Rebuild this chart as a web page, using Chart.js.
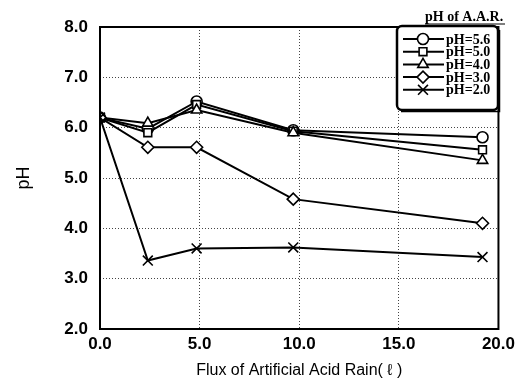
<!DOCTYPE html>
<html><head><meta charset="utf-8">
<script src="https://cdn.jsdelivr.net/npm/chart.js@4/dist/chart.umd.min.js"></script>
<style>html,body{margin:0;padding:0;background:#fff}#wrap{width:520px;height:380px}</style>
</head><body><div id="wrap"><canvas id="c" width="520" height="380"></canvas></div>
<script>
const flux = [0, 2.4, 4.85, 9.7, 19.2];
const seriesLabels = ['pH=5.6', 'pH=5.0', 'pH=4.0', 'pH=3.0', 'pH=2.0'];
const ph56 = [6.2, 5.98, 6.52, 5.95, 5.81];
const ph50 = [6.2, 5.90, 6.46, 5.93, 5.56];
const ph40 = [6.2, 6.09, 6.35, 5.90, 5.35];
const ph30 = [6.2, 5.61, 5.61, 4.58, 4.10];
const ph20 = [6.2, 3.36, 3.60, 3.62, 3.43];
const xTicks = [0, 5, 10, 15, 20];
const yTicks = [2, 3, 4, 5, 6, 7, 8];
const legendTitle = 'pH of A.A.R.';

const styles = ['circle', 'rect', 'triangle', 'rectRot', 'crossRot'];
const radii = [5.5, 5.5, 6, 6, 7];
const drawOrder = [4, 3, 2, 1, 0];
const allSeries = [ph56, ph50, ph40, ph30, ph20];

const datasets = allSeries.map((s, i) => ({
  label: seriesLabels[i],
  data: s.map((v, j) => ({x: flux[j], y: v})),
  order: drawOrder[i],
  borderColor: '#000',
  backgroundColor: '#fff',
  borderWidth: 2,
  pointStyle: styles[i],
  pointRadius: radii[i],
  pointBorderWidth: 1.6,
  pointBackgroundColor: '#fff',
  pointBorderColor: '#000',
  tension: 0
}));

const framePlugin = {
  id: 'frame',
  afterDatasetsDraw(chart) {
    const {ctx, chartArea: a} = chart;
    ctx.save();
    ctx.strokeStyle = '#000';
    ctx.lineWidth = 2;
    ctx.strokeRect(a.left, a.top, a.right - a.left, a.bottom - a.top);
    ctx.restore();
  },
  afterDraw(chart) {
    const {ctx} = chart;
    ctx.save();
    const bx = 397, by = 26, bw = 101, bh = 84, r = 5;
    ctx.fillStyle = '#fff';
    ctx.strokeStyle = '#000';
    ctx.lineWidth = 2.5;
    ctx.beginPath();
    ctx.roundRect(bx, by, bw, bh, r);
    ctx.fill();
    ctx.stroke();
    ctx.lineWidth = 1.5;
    ctx.beginPath();
    ctx.moveTo(bx + bw + 1.5, by + 4);
    ctx.lineTo(bx + bw + 1.5, by + bh + 1.5);
    ctx.lineTo(bx + 4, by + bh + 1.5);
    ctx.stroke();
    ctx.fillStyle = '#000';
    ctx.font = 'bold 14px "Liberation Serif"';
    ctx.textAlign = 'left';
    ctx.textBaseline = 'middle';
    ctx.fillText(legendTitle, 425, 17);
    ctx.beginPath();
    ctx.lineWidth = 1;
    ctx.moveTo(425, 24); ctx.lineTo(505, 24);
    ctx.stroke();
    chart.data.datasets.forEach((ds, i) => {
      const y = 39 + i * 12.7;
      ctx.strokeStyle = '#000';
      ctx.lineWidth = 2;
      ctx.beginPath();
      ctx.moveTo(403, y); ctx.lineTo(444, y);
      ctx.stroke();
      ctx.fillStyle = '#fff';
      ctx.lineWidth = 1.6;
      Chart.helpers.drawPoint(ctx, {pointStyle: ds.pointStyle, radius: ds.pointRadius, borderWidth: 1.6, rotation: 0}, 423, y);
      ctx.fillStyle = '#000';
      ctx.font = 'bold 14px "Liberation Serif"';
      ctx.fillText(ds.label, 446, y + 1);
    });
    ctx.restore();
  }
};

new Chart(document.getElementById('c'), {
  type: 'line',
  data: {datasets},
  options: {
    responsive: false,
    animation: false,
    devicePixelRatio: 1,
    layout: {padding: {left: 0, right: 21, top: 27, bottom: 0}},
    plugins: {legend: {display: false}, tooltip: {enabled: false}},
    scales: {
      x: {
        type: 'linear', min: 0, max: 20,
        afterBuildTicks(s) { s.ticks = xTicks.map(v => ({value: v})); },
        afterFit(s) { s.height = 51; },
        ticks: {color: '#000', font: {family: '"Liberation Sans"', size: 17, weight: 'bold'}, padding: 5, maxRotation: 0,
                callback: v => v.toFixed(1)},
        grid: {color: '#444', lineWidth: 1, drawTicks: false, tickLength: 0},
        border: {display: false, dash: [1, 2]},
        title: {display: true, text: 'Flux of Artificial Acid Rain( ℓ )', color: '#000',
                font: {family: '"Liberation Sans"', size: 16}, padding: {top: 2, bottom: 0}}
      },
      y: {
        type: 'linear', min: 2, max: 8,
        afterBuildTicks(s) { s.ticks = yTicks.map(v => ({value: v})); },
        afterFit(s) { s.width = 100; },
        ticks: {color: '#000', font: {family: '"Liberation Sans"', size: 17, weight: 'bold'}, padding: 12,
                callback: v => v.toFixed(1)},
        grid: {color: '#444', lineWidth: 1, drawTicks: false},
        border: {display: false, dash: [1, 2]},
        title: {display: true, text: 'pH', color: '#000',
                font: {family: '"Liberation Sans"', size: 18}, padding: {top: 13, bottom: 8}}
      }
    }
  },
  plugins: [framePlugin]
});
</script></body></html>
